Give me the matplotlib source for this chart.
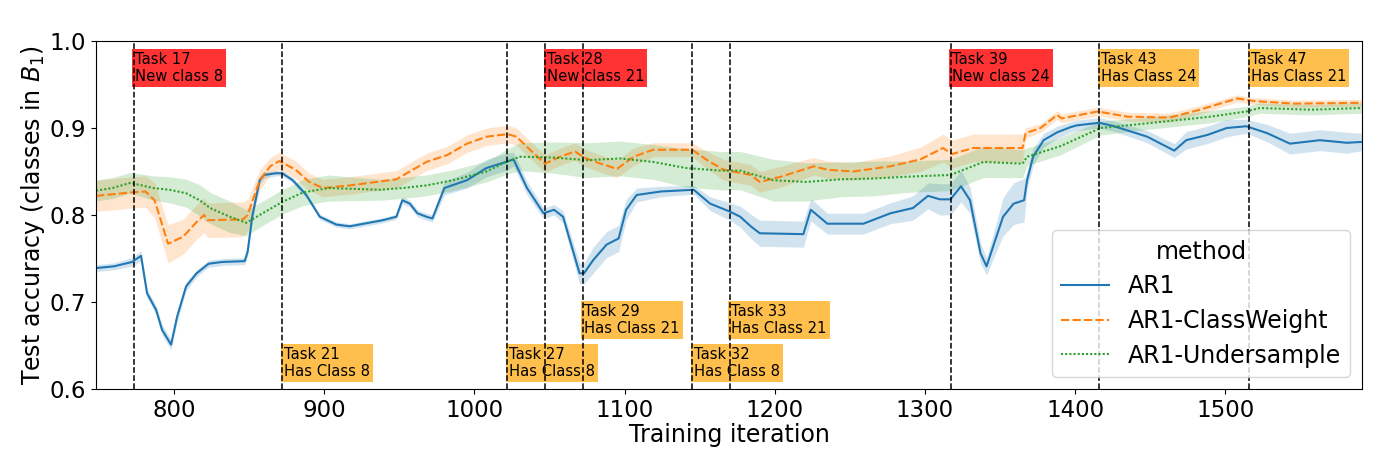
import matplotlib
matplotlib.use("Agg")
import matplotlib.pyplot as plt
import numpy as np

# ---------------- data ----------------
ar1_x = [748, 760, 772, 778, 782, 788, 792, 798, 802, 808,
         815, 823, 832, 847, 849, 852, 857, 860, 868, 872,
         879, 888, 897, 908, 917, 939, 948, 952, 957, 962,
         968, 972, 980, 995, 1008, 1021, 1026, 1035, 1046, 1053,
         1059, 1070, 1073, 1079, 1088, 1096, 1101, 1108, 1124, 1146,
         1157, 1170, 1177, 1184, 1190, 1219, 1224, 1235, 1259, 1277,
         1292, 1302, 1310, 1317, 1324, 1330, 1337, 1341, 1346, 1352,
         1359, 1366, 1368, 1372, 1379, 1388, 1397, 1401, 1416, 1426,
         1448, 1466, 1474, 1488, 1501, 1514, 1528, 1543, 1563, 1581, 1591]
ar1_y = [0.739, 0.741, 0.746, 0.753, 0.710, 0.691, 0.668, 0.651, 0.683, 0.718,
         0.733, 0.744, 0.746, 0.747, 0.758, 0.798, 0.840, 0.846, 0.848, 0.848,
         0.840, 0.823, 0.798, 0.789, 0.787, 0.794, 0.798, 0.817, 0.813, 0.802,
         0.798, 0.796, 0.831, 0.840, 0.854, 0.861, 0.864, 0.831, 0.802, 0.806,
         0.798, 0.733, 0.733, 0.748, 0.766, 0.773, 0.806, 0.823, 0.827, 0.829,
         0.813, 0.804, 0.798, 0.787, 0.779, 0.778, 0.806, 0.790, 0.790, 0.802,
         0.808, 0.822, 0.818, 0.818, 0.833, 0.817, 0.756, 0.741, 0.767, 0.798,
         0.813, 0.817, 0.840, 0.867, 0.886, 0.895, 0.901, 0.903, 0.906, 0.902,
         0.890, 0.874, 0.886, 0.892, 0.900, 0.902, 0.894, 0.882, 0.886, 0.883, 0.884]
ar1_err = [0.004, 0.004, 0.005, 0.006, 0.005, 0.005, 0.006, 0.006, 0.006, 0.005,
           0.004, 0.004, 0.004, 0.004, 0.005, 0.006, 0.005, 0.004, 0.003, 0.003,
           0.003, 0.003, 0.003, 0.003, 0.003, 0.003, 0.003, 0.004, 0.004, 0.004,
           0.004, 0.004, 0.008, 0.009, 0.010, 0.010, 0.008, 0.008, 0.006, 0.006,
           0.007, 0.012, 0.012, 0.015, 0.015, 0.015, 0.012, 0.008, 0.006, 0.005,
           0.008, 0.010, 0.012, 0.014, 0.015, 0.015, 0.013, 0.012, 0.012, 0.012,
           0.014, 0.015, 0.018, 0.018, 0.018, 0.015, 0.012, 0.010, 0.015, 0.022,
           0.024, 0.025, 0.010, 0.010, 0.008, 0.007, 0.006, 0.006, 0.006, 0.006,
           0.007, 0.008, 0.010, 0.010, 0.010, 0.008, 0.010, 0.012, 0.012, 0.012, 0.010]

cw_x = [748, 772, 781, 787, 796, 806, 815, 820, 822, 846,
        849, 857, 864, 870, 881, 890, 899, 917, 948, 957,
        968, 982, 995, 1008, 1022, 1028, 1037, 1047, 1057, 1067,
        1073, 1084, 1095, 1106, 1119, 1145, 1155, 1166, 1184, 1190,
        1204, 1226, 1235, 1252, 1277, 1297, 1312, 1318, 1332, 1365,
        1367, 1377, 1388, 1391, 1415, 1435, 1463, 1483, 1508, 1519,
        1546, 1591]
cw_y = [0.822, 0.826, 0.827, 0.817, 0.767, 0.775, 0.792, 0.800, 0.794, 0.795,
        0.800, 0.840, 0.856, 0.862, 0.852, 0.838, 0.831, 0.834, 0.841, 0.850,
        0.861, 0.869, 0.882, 0.890, 0.893, 0.890, 0.875, 0.859, 0.867, 0.873,
        0.866, 0.859, 0.853, 0.867, 0.875, 0.875, 0.863, 0.852, 0.846, 0.838,
        0.844, 0.856, 0.852, 0.850, 0.856, 0.864, 0.877, 0.870, 0.877, 0.877,
        0.894, 0.900, 0.915, 0.911, 0.919, 0.913, 0.912, 0.921, 0.934, 0.931,
        0.928, 0.929]
cw_err = [0.018, 0.018, 0.018, 0.020, 0.022, 0.020, 0.020, 0.020, 0.020, 0.020,
          0.018, 0.012, 0.010, 0.010, 0.010, 0.010, 0.010, 0.010, 0.010, 0.010,
          0.010, 0.010, 0.010, 0.010, 0.010, 0.010, 0.010, 0.010, 0.010, 0.010,
          0.010, 0.010, 0.010, 0.010, 0.008, 0.008, 0.010, 0.012, 0.012, 0.012,
          0.012, 0.010, 0.010, 0.010, 0.012, 0.014, 0.016, 0.016, 0.016, 0.016,
          0.006, 0.005, 0.005, 0.005, 0.005, 0.005, 0.005, 0.005, 0.004, 0.004,
          0.004, 0.004]

us_x = [748, 759, 771, 786, 797, 808, 817, 824, 837, 848,
        859, 872, 886, 903, 937, 952, 968, 986, 1008, 1020,
        1030, 1053, 1075, 1097, 1119, 1141, 1164, 1177, 1199, 1221,
        1244, 1266, 1288, 1317, 1339, 1365, 1368, 1390, 1417, 1446,
        1468, 1490, 1514, 1523, 1557, 1591]
us_y = [0.828, 0.831, 0.837, 0.831, 0.829, 0.825, 0.817, 0.808, 0.798, 0.791,
        0.802, 0.815, 0.826, 0.831, 0.829, 0.831, 0.834, 0.840, 0.850, 0.860,
        0.867, 0.866, 0.863, 0.865, 0.861, 0.854, 0.851, 0.851, 0.840, 0.838,
        0.841, 0.842, 0.844, 0.846, 0.861, 0.859, 0.867, 0.879, 0.900, 0.905,
        0.909, 0.913, 0.919, 0.923, 0.921, 0.923]
us_err = [0.012, 0.012, 0.012, 0.014, 0.015, 0.016, 0.018, 0.018, 0.018, 0.015,
          0.014, 0.014, 0.015, 0.015, 0.012, 0.012, 0.012, 0.012, 0.012, 0.014,
          0.016, 0.018, 0.020, 0.020, 0.020, 0.022, 0.022, 0.022, 0.024, 0.022,
          0.020, 0.020, 0.018, 0.018, 0.018, 0.016, 0.010, 0.010, 0.008, 0.007,
          0.007, 0.007, 0.006, 0.006, 0.006, 0.006]

methods = ["AR1", "AR1-ClassWeight", "AR1-Undersample"]

task_x = [773, 872, 1022, 1047, 1072, 1145, 1170, 1317, 1416, 1516]
task_labels = ["Task 17\nNew class 8", "Task 21\nHas Class 8", "Task 27\nHas Class 8",
               "Task 28\nNew class 21", "Task 29\nHas Class 21", "Task 32\nHas Class 8",
               "Task 33\nHas Class 21", "Task 39\nNew class 24", "Task 43\nHas Class 24",
               "Task 47\nHas Class 21"]
task_kind = ["new", "has", "has", "new", "has", "has", "has", "new", "has", "has"]
task_row = ["top", "low", "low", "top", "mid", "low", "mid", "top", "top", "top"]

# ---------------- plot ----------------
fig = plt.figure(figsize=(13.88, 4.59), dpi=100)
ax = fig.add_axes([0.06916, 0.15251, 0.91210, 0.75817])

colors = ["#1f77b4", "#ff7f0e", "#2ca02c"]
styles = ["-", (0, (4, 1.5)), (0, (1, 1))]
series = [(ar1_x, ar1_y, ar1_err), (cw_x, cw_y, cw_err), (us_x, us_y, us_err)]
for (xs, ys, es), c, ls, name in zip(series, colors, styles, methods):
    xs = np.asarray(xs, float)
    ys = np.asarray(ys, float)
    es = np.asarray(es, float)
    ax.fill_between(xs, ys - es, ys + es, color=c, alpha=0.2, linewidth=0)
    ax.plot(xs, ys, color=c, linestyle=ls, linewidth=1.5, label=name)

row_y = {"top": 0.9505, "mid": 0.6608, "low": 0.6111}
kind_style = {"new": dict(boxstyle="square,pad=0.2", facecolor="red", alpha=0.8, edgecolor="none"),
              "has": dict(boxstyle="square,pad=0.2", facecolor="orange", alpha=0.7, edgecolor="none")}
for x, lab, kind, row in zip(task_x, task_labels, task_kind, task_row):
    ax.axvline(x, color="black", linestyle="--", linewidth=1.1, zorder=4)
    ax.text(x + 1.0, row_y[row], lab, fontsize=10.6, ha="left", va="bottom",
            bbox=kind_style[kind], zorder=3)

ax.set_xlim(748, 1591)
ax.set_ylim(0.6, 1.0)
ax.set_xticks([800, 900, 1000, 1100, 1200, 1300, 1400, 1500])
ax.set_yticks([0.6, 0.7, 0.8, 0.9, 1.0])
ax.set_yticklabels(["0.6", "0.7", "0.8", "0.9", "1.0"])
ax.tick_params(labelsize=16.5)
ax.set_xlabel("Training iteration", fontsize=17, labelpad=1)
ax.set_ylabel("Test accuracy (classes in $B_1$)", fontsize=17, labelpad=2)

leg = ax.legend(title="method", fontsize=17, title_fontsize=17, loc="lower right",
                labelspacing=0.45)
leg.set_zorder(5)

fig.savefig("out.png", dpi=100)
